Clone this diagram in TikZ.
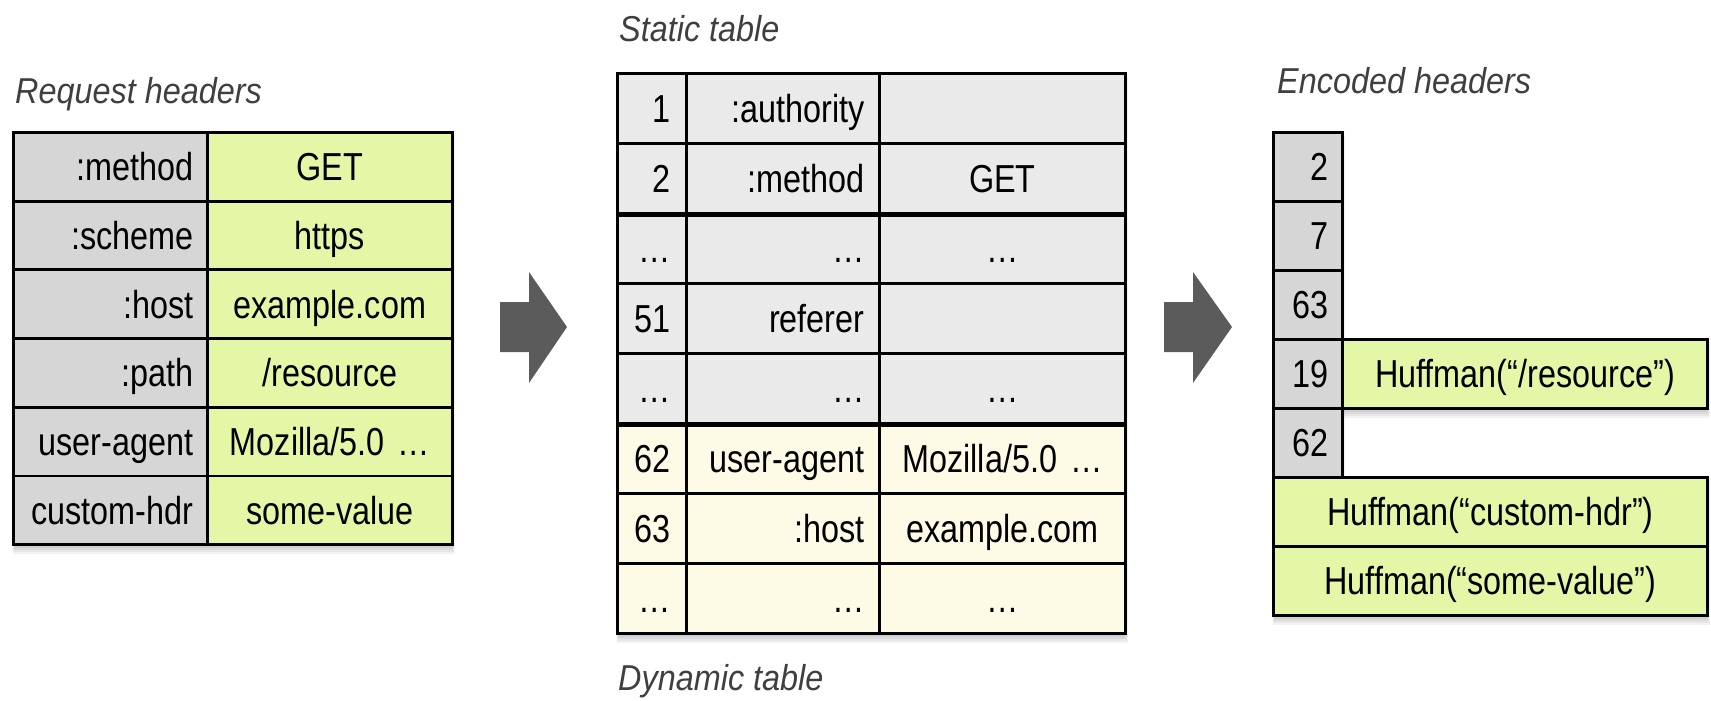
\documentclass[tikz,border=0pt]{standalone}
\usepackage{fontspec}
\newfontfamily\cellfont{Liberation Sans}[FakeStretch=0.83]
\newfontfamily\titlefontfam{Liberation Sans}[FakeStretch=0.9]
\definecolor{keygray}{HTML}{D6D6D6}
\definecolor{valgreen}{HTML}{E4F7A6}
\definecolor{statgray}{HTML}{EAEAEA}
\definecolor{dynyellow}{HTML}{FDFBE5}
\definecolor{titlegray}{HTML}{3F3F3F}
\definecolor{arrowgray}{HTML}{5B5B5B}
\newcommand{\hcell}[9]{%
  \pgfmathsetmacro\hcw{#4-2*#7}%
  \node[cellbox, fill=#6, minimum width=#4pt, minimum height=#5pt,
        text width=\hcw pt, inner xsep=#7pt, align=#8] (#1) at (#2,#3) {#9};}
\newcommand{\softshadow}[4]{%
  \foreach \k in {1,...,5}{\fill[black,opacity=0.05] ({#1+3-0.4*\k},{#2+4}) rectangle ({#3+0.8*\k},{#4+2*\k+1});}}
\begin{document}
\begin{tikzpicture}[x=1pt,y=-1pt,
  cellbox/.style={draw=black, line width=2.8pt, inner ysep=0pt, anchor=north west,
    font=\cellfont\fontsize{39}{44}\selectfont, text height=28pt, text depth=0pt},
  titletxt/.style={font=\titlefontfam\itshape\fontsize{36}{40}\selectfont, text=titlegray,
    inner sep=0pt, anchor=base west},
  thickrule/.style={draw=black, line width=4.5pt}]
\useasboundingbox (0,0) rectangle (1711,701);

% ---------- titles
\node[titletxt] (treq) at (15,103) {Request headers};
\node[titletxt] (tstat) at (619,42) {Static table};
\node[titletxt] (tdyn) at (618,690) {Dynamic table};
\node[titletxt] (tenc) at (1277,93) {Encoded headers};

% ---------- shadows
\softshadow{12}{131}{451}{543.2}
\softshadow{616}{72}{1124}{632}
\softshadow{1272}{131}{1341}{476}
\softshadow{1341}{338}{1706}{407}
\softshadow{1272}{476}{1706}{614}

% ---------- request headers
\hcell{la1}{12}{131}{194}{68.7}{keygray}{14}{right}{:method}
\hcell{lb1}{206}{131}{245}{68.7}{valgreen}{4}{center}{GET}
\hcell{la2}{12}{199.7}{194}{68.7}{keygray}{14}{right}{:scheme}
\hcell{lb2}{206}{199.7}{245}{68.7}{valgreen}{4}{center}{https}
\hcell{la3}{12}{268.4}{194}{68.7}{keygray}{14}{right}{:host}
\hcell{lb3}{206}{268.4}{245}{68.7}{valgreen}{4}{center}{example.com}
\hcell{la4}{12}{337.1}{194}{68.7}{keygray}{14}{right}{:path}
\hcell{lb4}{206}{337.1}{245}{68.7}{valgreen}{4}{center}{/resource}
\hcell{la5}{12}{405.8}{194}{68.7}{keygray}{14}{right}{user-agent}
\hcell{lb5}{206}{405.8}{245}{68.7}{valgreen}{4}{center}{Mozilla/5.0 …}
\hcell{la6}{12}{474.5}{194}{68.7}{keygray}{14}{right}{custom-hdr}
\hcell{lb6}{206}{474.5}{245}{68.7}{valgreen}{4}{center}{some-value}

% ---------- static / dynamic table
\hcell{m1a}{616}{72}{69}{70}{statgray}{16}{right}{1}
\hcell{m1b}{685}{72}{193}{70}{statgray}{15}{right}{:authority}
\hcell{m1c}{878}{72}{246}{70}{statgray}{4}{center}{}
\hcell{m2a}{616}{142}{69}{70}{statgray}{16}{right}{2}
\hcell{m2b}{685}{142}{193}{70}{statgray}{15}{right}{:method}
\hcell{m2c}{878}{142}{246}{70}{statgray}{4}{center}{GET}
\hcell{m3a}{616}{212}{69}{70}{statgray}{16}{right}{…}
\hcell{m3b}{685}{212}{193}{70}{statgray}{15}{right}{…}
\hcell{m3c}{878}{212}{246}{70}{statgray}{4}{center}{…}
\hcell{m4a}{616}{282}{69}{70}{statgray}{16}{right}{51}
\hcell{m4b}{685}{282}{193}{70}{statgray}{15}{right}{referer}
\hcell{m4c}{878}{282}{246}{70}{statgray}{4}{center}{}
\hcell{m5a}{616}{352}{69}{70}{statgray}{16}{right}{…}
\hcell{m5b}{685}{352}{193}{70}{statgray}{15}{right}{…}
\hcell{m5c}{878}{352}{246}{70}{statgray}{4}{center}{…}
\hcell{m6a}{616}{422}{69}{70}{dynyellow}{16}{right}{62}
\hcell{m6b}{685}{422}{193}{70}{dynyellow}{15}{right}{user-agent}
\hcell{m6c}{878}{422}{246}{70}{dynyellow}{4}{center}{Mozilla/5.0 …}
\hcell{m7a}{616}{492}{69}{70}{dynyellow}{16}{right}{63}
\hcell{m7b}{685}{492}{193}{70}{dynyellow}{15}{right}{:host}
\hcell{m7c}{878}{492}{246}{70}{dynyellow}{4}{center}{example.com}
\hcell{m8a}{616}{562}{69}{70}{dynyellow}{16}{right}{…}
\hcell{m8b}{685}{562}{193}{70}{dynyellow}{15}{right}{…}
\hcell{m8c}{878}{562}{246}{70}{dynyellow}{4}{center}{…}
\draw[thickrule] (m2a.south west) -- (m2c.south east);
\draw[thickrule] (m5a.south west) -- (m5c.south east);

% ---------- encoded headers
\hcell{e1}{1272}{131}{69}{69}{keygray}{14}{right}{2}
\hcell{e2}{1272}{200}{69}{69}{keygray}{14}{right}{7}
\hcell{e3}{1272}{269}{69}{69}{keygray}{14}{right}{63}
\hcell{e4}{1272}{338}{69}{69}{keygray}{14}{right}{19}
\hcell{e4h}{1341}{338}{365}{69}{valgreen}{4}{center}{Huffman(“/resource”)}
\hcell{e5}{1272}{407}{69}{69}{keygray}{14}{right}{62}
\hcell{e6}{1272}{476}{434}{69}{valgreen}{4}{center}{Huffman(“custom-hdr”)}
\hcell{e7}{1272}{545}{434}{69}{valgreen}{4}{center}{Huffman(“some-value”)}

% ---------- block arrows
\fill[arrowgray] (500,302) -- (529,302) -- (529,272) -- (567,327) -- (529,383) -- (529,352) -- (500,352) -- cycle;
\fill[arrowgray] (1164,302) -- (1193,302) -- (1193,272) -- (1232,327) -- (1193,383) -- (1193,352) -- (1164,352) -- cycle;
\end{tikzpicture}
\end{document}
